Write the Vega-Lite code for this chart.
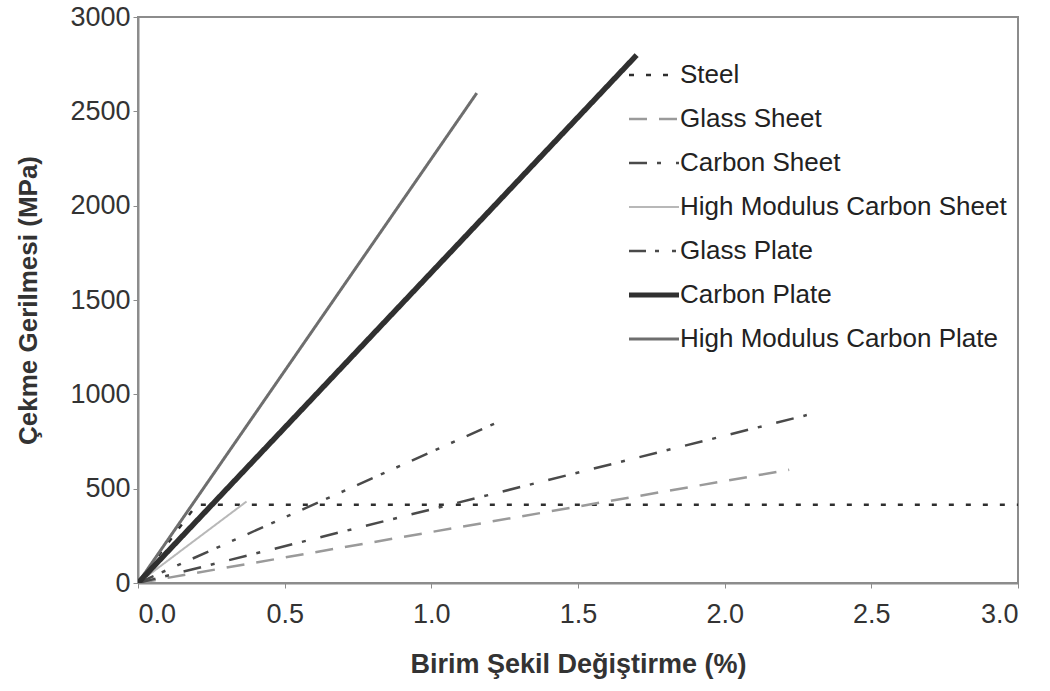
{
  "$schema": "https://vega.github.io/schema/vega-lite/v6.json",
  "width": 880,
  "height": 566,
  "autosize": {"type": "none"},
  "padding": {"left": 138, "top": 17, "right": 32, "bottom": 108},
  "background": "white",
  "config": {
    "font": "Liberation Sans",
    "view": {"stroke": "#8c8c8c", "strokeWidth": 2}
  },
  "data": {
    "values": [
      {"material": "Steel", "strain": 0, "stress": 0},
      {"material": "Steel", "strain": 0.2, "stress": 415},
      {"material": "Steel", "strain": 3.0, "stress": 415},
      {"material": "Glass Sheet", "strain": 0, "stress": 0},
      {"material": "Glass Sheet", "strain": 2.22, "stress": 600},
      {"material": "Carbon Sheet", "strain": 0, "stress": 0},
      {"material": "Carbon Sheet", "strain": 2.28, "stress": 890},
      {"material": "High Modulus Carbon Sheet", "strain": 0, "stress": 0},
      {"material": "High Modulus Carbon Sheet", "strain": 0.37, "stress": 432},
      {"material": "Glass Plate", "strain": 0, "stress": 0},
      {"material": "Glass Plate", "strain": 1.22, "stress": 848},
      {"material": "Carbon Plate", "strain": 0, "stress": 0},
      {"material": "Carbon Plate", "strain": 1.7, "stress": 2798},
      {"material": "High Modulus Carbon Plate", "strain": 0, "stress": 0},
      {"material": "High Modulus Carbon Plate", "strain": 1.155, "stress": 2597}
    ]
  },
  "encoding": {
    "x": {
      "field": "strain",
      "type": "quantitative",
      "scale": {"domain": [0, 3], "nice": false},
      "axis": {
        "values": [0, 0.5, 1, 1.5, 2, 2.5, 3],
        "format": ".1f",
        "grid": false,
        "domainColor": "#8c8c8c",
        "domainWidth": 2,
        "tickColor": "#8c8c8c",
        "tickSize": 5,
        "labelFontSize": 27,
        "labelColor": "#333333",
        "labelPadding": 13,
        "title": "Birim  Şekil Değiştirme (%)",
        "titleFontSize": 27,
        "titleFontWeight": "bold",
        "titleColor": "#333333",
        "titlePadding": 24
      }
    },
    "y": {
      "field": "stress",
      "type": "quantitative",
      "scale": {"domain": [0, 3000], "nice": false},
      "axis": {
        "values": [0, 500, 1000, 1500, 2000, 2500, 3000],
        "format": "d",
        "grid": false,
        "domainColor": "#8c8c8c",
        "domainWidth": 2,
        "tickColor": "#8c8c8c",
        "tickSize": 5,
        "labelFontSize": 27,
        "labelColor": "#333333",
        "labelPadding": 3,
        "title": "Çekme Gerilmesi (MPa)",
        "titleFontSize": 26,
        "titleFontWeight": "bold",
        "titleColor": "#333333",
        "titlePadding": 28
      }
    },
    "order": {"field": "strain"},
    "color": {
      "field": "material",
      "type": "nominal",
      "scale": {
        "domain": ["Steel", "Glass Sheet", "Carbon Sheet", "High Modulus Carbon Sheet", "Glass Plate", "Carbon Plate", "High Modulus Carbon Plate"],
        "range": ["#2e2e2e", "#9a9a9a", "#4a4a4a", "#b8b8b8", "#4a4a4a", "#303030", "#6e6e6e"]
      },
      "legend": {
        "orient": "none",
        "legendX": 503,
        "legendY": 45,
        "title": null,
        "symbolType": "stroke",
        "symbolSize": 2500,
        "symbolStrokeWidth": 2.5,
        "labelFontSize": 26,
        "labelColor": "#222222",
        "labelOffset": 13,
        "labelLimit": 400,
        "rowPadding": 18,
        "padding": 0,
        "encode": {
          "symbols": {
            "update": {
              "strokeWidth": {"signal": "datum.value === 'Carbon Plate' ? 5 : datum.value === 'High Modulus Carbon Sheet' ? 2 : datum.value === 'High Modulus Carbon Plate' ? 3 : 2.5"}
            }
          }
        }
      }
    },
    "strokeDash": {
      "field": "material",
      "type": "nominal",
      "scale": {
        "domain": ["Steel", "Glass Sheet", "Carbon Sheet", "High Modulus Carbon Sheet", "Glass Plate", "Carbon Plate", "High Modulus Carbon Plate"],
        "range": [[5, 12], [18, 12], [18, 10, 4, 15], [1, 0], [17, 9, 4, 13, 4, 13], [1, 0], [1, 0]]
      }
    }
  },
  "layer": [
    {
      "transform": [{"filter": {"field": "material", "oneOf": ["Steel", "Glass Sheet", "Carbon Sheet", "Glass Plate"]}}],
      "mark": {"type": "line", "strokeCap": "butt", "clip": true, "strokeWidth": 2.5}
    },
    {
      "transform": [{"filter": {"field": "material", "equal": "High Modulus Carbon Sheet"}}],
      "mark": {"type": "line", "strokeCap": "butt", "clip": true, "strokeWidth": 2}
    },
    {
      "transform": [{"filter": {"field": "material", "equal": "High Modulus Carbon Plate"}}],
      "mark": {"type": "line", "strokeCap": "butt", "clip": true, "strokeWidth": 3}
    },
    {
      "transform": [{"filter": {"field": "material", "equal": "Carbon Plate"}}],
      "mark": {"type": "line", "strokeCap": "butt", "clip": true, "strokeWidth": 5.5}
    }
  ]
}
